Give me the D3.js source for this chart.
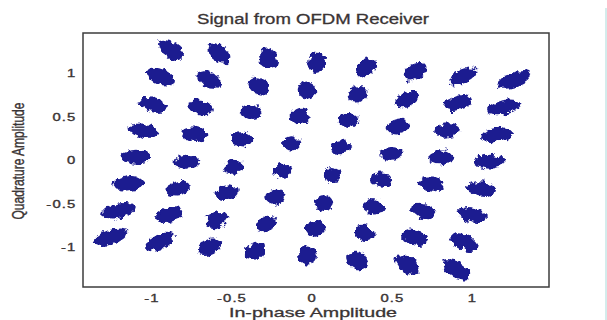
<!DOCTYPE html>
<html>
<head>
<meta charset="utf-8">
<script src="https://cdn.jsdelivr.net/npm/d3@7"></script>
<style>
  html, body { margin: 0; padding: 0; background: #fff; }
  #chart { width: 607px; height: 320px; }
  text { font-family: "Liberation Sans", Arial, sans-serif; }
</style>
</head>
<body>
<div id="chart"></div>
<script>
// Cluster centres of the received 64-QAM symbols, read row by row (top row first)
const clusterI = [
  -0.880, -0.578, -0.272,  0.031,  0.340,  0.642,  0.947,  1.262,
  -0.940, -0.639, -0.330, -0.028,  0.287,  0.593,  0.913,  1.195,
  -0.988, -0.692, -0.378, -0.072,  0.230,  0.536,  0.847,  1.156,
  -1.049, -0.735, -0.431, -0.125,  0.180,  0.495,  0.802,  1.106,
  -1.097, -0.781, -0.482, -0.180,  0.129,  0.436,  0.746,  1.056,
  -1.145, -0.836, -0.530, -0.228,  0.074,  0.388,  0.697,  1.002,
  -1.205, -0.892, -0.590, -0.281,  0.023,  0.330,  0.642,  0.953,
  -1.254, -0.947, -0.638, -0.349, -0.025,  0.284,  0.594,  0.903
];
const clusterQ = [
   1.264,  1.226,  1.169,  1.123,  1.072,  1.021,  0.960,  0.920,
   0.957,  0.920,  0.851,  0.805,  0.756,  0.699,  0.655,  0.606,
   0.632,  0.606,  0.548,  0.502,  0.455,  0.391,  0.339,  0.287,
   0.337,  0.303,  0.238,  0.192,  0.146,  0.080,  0.031, -0.020,
   0.038, -0.020, -0.077, -0.123, -0.172, -0.225, -0.271, -0.329,
  -0.268, -0.325, -0.376, -0.429, -0.489, -0.537, -0.592, -0.632,
  -0.583, -0.632, -0.690, -0.736, -0.785, -0.843, -0.889, -0.943,
  -0.889, -0.939, -0.997, -1.043, -1.092, -1.155, -1.207, -1.256
];
const xTicks = [-1, -0.5, 0, 0.5, 1];
const yTicks = [-1, -0.5, 0, 0.5, 1];

/**
 * Draw the constellation scatter
 */
function createConstellation(container) {
  const width = 607;
  const height = 320;
  const margin = { top: 33, right: 58, bottom: 33, left: 83 };
  const innerWidth = width - margin.left - margin.right;
  const innerHeight = height - margin.top - margin.bottom;
  const textColor = '#3a3434';

  const svg = d3.select(container)
    .append('svg')
    .attr('width', width)
    .attr('height', height);

  // rough edge for the noisy clusters
  const filter = svg.append('defs').append('filter')
    .attr('id', 'rough')
    .attr('x', '-10%').attr('y', '-10%')
    .attr('width', '120%').attr('height', '120%');
  filter.append('feTurbulence')
    .attr('type', 'fractalNoise')
    .attr('baseFrequency', 0.16)
    .attr('numOctaves', 3)
    .attr('seed', 11)
    .attr('result', 'noise');
  filter.append('feDisplacementMap')
    .attr('in', 'SourceGraphic')
    .attr('in2', 'noise')
    .attr('scale', 8)
    .attr('xChannelSelector', 'R')
    .attr('yChannelSelector', 'G')
    .attr('result', 'moved');
  filter.append('feGaussianBlur')
    .attr('in', 'moved')
    .attr('stdDeviation', 0.45);

  const x = d3.scaleLinear()
    .domain([-1.426, 1.48])
    .range([margin.left, margin.left + innerWidth]);

  const y = d3.scaleLinear()
    .domain([-1.46, 1.46])
    .range([margin.top + innerHeight, margin.top]);

  // X axis (labels only)
  const xAxis = svg.append('g')
    .attr('transform', `translate(0,${margin.top + innerHeight})`)
    .call(d3.axisBottom(x).tickValues(xTicks).tickSize(0).tickPadding(0).tickFormat(d => String(d)));
  xAxis.select('.domain').remove();
  xAxis.selectAll('text')
    .attr('y', 15.5)
    .attr('dy', null)
    .attr('transform', 'scale(1.35,1)')
    .style('font-size', '11px')
    .style('letter-spacing', '0.8px')
    .style('fill', textColor)
    .style('stroke', textColor)
    .style('stroke-width', 0.35);

  // Y axis (labels only)
  const yAxis = svg.append('g')
    .attr('transform', `translate(${margin.left},0)`)
    .call(d3.axisLeft(y).tickValues(yTicks).tickSize(0).tickPadding(0).tickFormat(d => String(d)));
  yAxis.select('.domain').remove();
  yAxis.selectAll('text')
    .attr('x', -5)
    .attr('dy', '0.36em')
    .attr('transform', 'scale(1.35,1)')
    .style('font-size', '11px')
    .style('letter-spacing', '0.8px')
    .style('fill', textColor)
    .style('stroke', textColor)
    .style('stroke-width', 0.35);

  // Clusters: base spread plus an elongation pointing away from the origin
  const cx0 = x(0), cy0 = y(0);
  const points = clusterI.map((v, i) => ({ I: v, Q: clusterQ[i] }));
  const blobs = points.map(d => {
    const px = x(d.I), py = y(d.Q);
    const dx = px - cx0, dy = py - cy0;
    const r = Math.hypot(dx, dy) || 1;
    const ux = dx / r, uy = dy / r;
    const e = 0.068 * r;
    const a = 9.5 * 9.5 + e * e * ux * ux;
    const c = 7 * 7 + e * e * uy * uy;
    const b = e * e * ux * uy;
    const m = (a + c) / 2, s = Math.sqrt(((a - c) / 2) ** 2 + b * b);
    return {
      px, py,
      rx: Math.sqrt(m + s),
      ry: Math.sqrt(m - s),
      angle: 0.5 * Math.atan2(2 * b, a - c) * 180 / Math.PI
    };
  });

  svg.append('g')
    .attr('filter', 'url(#rough)')
    .selectAll('ellipse')
    .data(blobs)
    .enter()
    .append('ellipse')
    .attr('cx', 0)
    .attr('cy', 0)
    .attr('rx', d => d.rx)
    .attr('ry', d => d.ry)
    .attr('transform', d => `translate(${d.px},${d.py}) rotate(${d.angle})`)
    .attr('fill', '#1a1a90');

  // axes box
  svg.append('rect')
    .attr('x', margin.left)
    .attr('y', margin.top)
    .attr('width', innerWidth)
    .attr('height', innerHeight)
    .attr('fill', 'none')
    .attr('stroke', '#3c3c3c')
    .attr('stroke-width', 1.5);

  // title
  svg.append('text')
    .attr('x', margin.left + innerWidth / 2 - 3)
    .attr('y', 24)
    .attr('text-anchor', 'middle')
    .attr('textLength', 232)
    .attr('lengthAdjust', 'spacingAndGlyphs')
    .style('font-size', '14px')
    .style('fill', textColor)
    .style('stroke', textColor)
    .style('stroke-width', 0.3)
    .text('Signal from OFDM Receiver');

  // x label
  svg.append('text')
    .attr('x', 313)
    .attr('y', 317.2)
    .attr('text-anchor', 'middle')
    .attr('textLength', 168)
    .attr('lengthAdjust', 'spacingAndGlyphs')
    .style('font-size', '13px')
    .style('fill', textColor)
    .style('stroke', textColor)
    .style('stroke-width', 0.3)
    .text('In-phase Amplitude');

  // y label
  svg.append('text')
    .attr('transform', 'translate(24,161) rotate(-90) scale(1,1.3)')
    .attr('text-anchor', 'middle')
    .attr('textLength', 117)
    .attr('lengthAdjust', 'spacingAndGlyphs')
    .style('font-size', '12px')
    .style('fill', textColor)
    .style('stroke', textColor)
    .style('stroke-width', 0.3)
    .text('Quadrature Amplitude');

  // faint frame edge at the right of the picture
  svg.append('line')
    .attr('x1', 606).attr('x2', 606)
    .attr('y1', 8).attr('y2', height)
    .attr('stroke', '#a9d9d9')
    .attr('stroke-width', 1);

  return svg;
}

createConstellation('#chart');
</script>
</body>
</html>
